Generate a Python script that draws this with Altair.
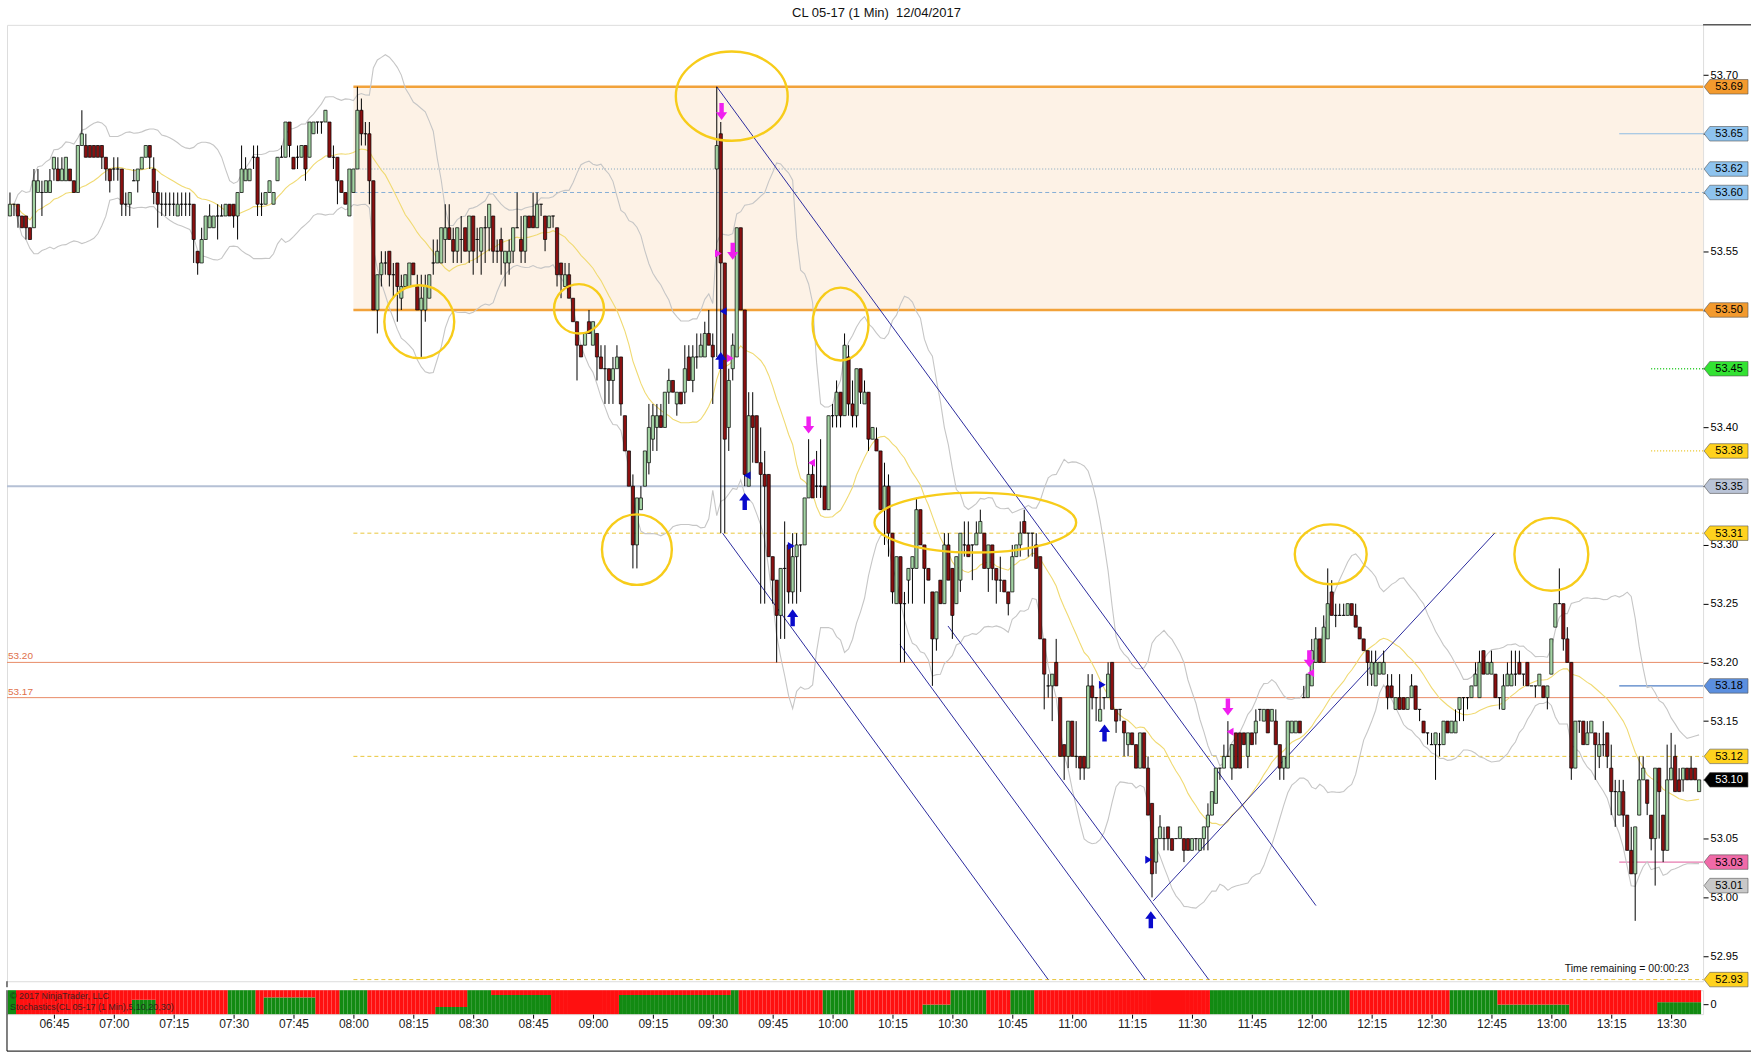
import altair as alt
import numpy as np
import pandas as pd

# ---------------------------------------------------------------- data
FIRST_BAR = 394  # 06:34 in minutes after midnight, one bar per minute

# prices in cents above 53.00
OPEN = [
    58, 59, 59, 58, 58, 57, 57, 60, 60, 60, 60, 62, 62, 61, 61, 62, 61, 60, 64, 64,
    64, 64, 64, 64, 63, 62, 62, 62, 62, 59, 59, 61, 61, 62, 63, 64, 62, 60, 59, 59,
    59, 59, 58, 59, 59, 59, 59, 55, 54, 56, 57, 57, 58, 58, 58, 59, 59, 58, 60, 61,
    61, 63, 63, 59, 59, 60, 59, 61, 63, 63, 66, 63, 63, 63, 64, 63, 65, 66, 66, 66,
    66, 63, 63, 61, 60, 58, 60, 62, 67, 65, 65, 61, 50, 53, 54, 55, 53, 54, 51, 52,
    52, 54, 52, 50, 50, 51, 54, 54, 54, 56, 57, 56, 55, 56, 57, 55, 58, 56, 55, 57,
    57, 58, 55, 56, 54, 54, 55, 57, 56, 55, 58, 58, 57, 59, 58, 57, 58, 57, 54, 52,
    53, 51, 49, 47, 47, 49, 47, 48, 46, 45, 45, 44, 45, 46, 41, 38, 35, 30, 33, 35,
    37, 39, 40, 41, 40, 43, 44, 42, 43, 43, 46, 44, 46, 46, 46, 48, 47, 62, 65, 54,
    40, 45, 46, 57, 50, 35, 41, 41, 37, 36, 36, 29, 27, 24, 28, 30, 26, 29, 30, 30,
    34, 36, 35, 35, 35, 33, 41, 41, 43, 41, 46, 42, 41, 45, 42, 43, 39, 39, 38, 33,
    35, 31, 25, 29, 25, 27, 28, 28, 33, 30, 28, 26, 22, 27, 25, 30, 28, 25, 27, 30,
    30, 30, 30, 31, 31, 28, 30, 28, 27, 27, 26, 26, 29, 30, 32, 31, 31, 30, 29, 22,
    18, 18, 20, 17, 13, 12, 15, 12, 12, 12, 11, 18, 17, 15, 17, 17, 20, 16, 16, 15,
    13, 14, 13, 11, 14, 11, 8, 3, 5, 5, 6, 5, 5, 5, 5, 5, 4, 5, 4, 5,
    6, 7, 8, 11, 11, 12, 11, 14, 14, 14, 12, 14, 14, 16, 15, 16, 15, 15, 13, 11,
    11, 14, 14, 15, 17, 17, 18, 20, 22, 20, 22, 26, 24, 24, 24, 24, 25, 24, 23, 22,
    21, 19, 18, 19, 19, 18, 18, 16, 17, 17, 16, 17, 18, 16, 15, 14, 13, 13, 13, 13,
    15, 14, 14, 16, 17, 17, 17, 18, 17, 21, 19, 19, 19, 17, 16, 18, 18, 19, 20, 19,
    20, 18, 18, 18, 18, 17, 19, 23, 25, 25, 22, 20, 11, 15, 15, 13, 14, 14, 12, 13,
    14, 11, 9, 7, 9, 7, 4, 2, 7, 10, 10, 7, 5, 11, 7, 4, 10, 12, 10, 10,
    11, 11, 11, 9,
]
HIGH = [
    60, 59, 59, 58, 58, 57, 62, 62, 61, 61, 62, 63, 63, 63, 63, 62, 61, 64, 67, 65,
    64, 64, 64, 64, 63, 62, 63, 63, 62, 60, 60, 62, 62, 63, 64, 64, 63, 61, 60, 60,
    60, 60, 60, 60, 60, 60, 59, 55, 57, 58, 59, 58, 59, 59, 59, 59, 59, 60, 64, 63,
    62, 64, 64, 60, 60, 61, 60, 63, 64, 66, 66, 63, 64, 64, 64, 66, 66, 66, 66, 67,
    66, 64, 63, 61, 60, 62, 62, 69, 68, 66, 66, 61, 53, 55, 55, 55, 54, 54, 53, 53,
    54, 54, 53, 53, 53, 53, 56, 56, 57, 59, 59, 57, 57, 58, 57, 58, 58, 57, 57, 58,
    59, 58, 56, 57, 55, 56, 57, 60, 58, 58, 58, 60, 60, 59, 58, 58, 58, 57, 54, 54,
    54, 51, 49, 47, 48, 50, 49, 48, 47, 47, 45, 46, 47, 46, 41, 38, 36, 34, 35, 38,
    42, 42, 42, 42, 43, 45, 44, 43, 43, 47, 47, 47, 48, 48, 49, 50, 48, 69, 66, 54,
    45, 48, 57, 57, 50, 43, 43, 41, 40, 38, 36, 29, 27, 28, 32, 30, 31, 31, 30, 34,
    39, 37, 38, 39, 35, 41, 42, 44, 43, 48, 47, 44, 45, 45, 44, 43, 40, 40, 38, 37,
    36, 31, 29, 29, 26, 28, 29, 34, 33, 30, 28, 26, 26, 27, 31, 31, 28, 29, 31, 32,
    32, 30, 32, 33, 31, 30, 30, 28, 29, 27, 26, 30, 30, 32, 33, 31, 31, 31, 29, 22,
    19, 19, 22, 17, 13, 15, 15, 15, 12, 12, 19, 19, 17, 18, 17, 20, 20, 16, 16, 15,
    14, 14, 13, 14, 14, 12, 8, 5, 7, 6, 6, 5, 5, 6, 5, 5, 5, 5, 5, 6,
    8, 9, 11, 11, 13, 15, 13, 14, 14, 14, 14, 14, 16, 16, 16, 16, 16, 16, 13, 12,
    15, 15, 15, 15, 18, 19, 22, 23, 22, 24, 28, 27, 25, 25, 25, 25, 25, 25, 23, 22,
    21, 21, 21, 20, 21, 19, 19, 17, 19, 17, 17, 19, 18, 16, 15, 14, 14, 14, 14, 15,
    15, 15, 16, 17, 17, 17, 18, 20, 21, 21, 20, 21, 19, 17, 19, 20, 21, 21, 21, 19,
    20, 18, 18, 19, 18, 18, 22, 25, 28, 25, 23, 20, 15, 15, 15, 15, 15, 14, 14, 15,
    14, 13, 10, 10, 10, 7, 6, 6, 12, 12, 10, 7, 11, 11, 7, 13, 14, 13, 11, 11,
    11, 12, 11, 10,
]
LOW = [
    58, 58, 57, 57, 56, 56, 57, 60, 58, 60, 60, 61, 61, 61, 61, 61, 60, 60, 64, 63,
    63, 63, 63, 62, 61, 60, 61, 61, 58, 58, 58, 61, 60, 62, 63, 62, 59, 57, 58, 58,
    58, 58, 58, 58, 58, 58, 54, 53, 54, 56, 57, 57, 56, 58, 58, 58, 57, 56, 60, 61,
    61, 62, 58, 58, 59, 60, 59, 61, 63, 63, 63, 62, 62, 63, 61, 63, 65, 65, 65, 66,
    63, 62, 59, 60, 59, 58, 60, 62, 64, 64, 59, 50, 48, 52, 53, 52, 51, 49, 50, 52,
    52, 53, 50, 46, 49, 51, 53, 54, 54, 54, 56, 54, 54, 54, 55, 54, 53, 54, 53, 54,
    55, 54, 54, 53, 52, 53, 54, 57, 54, 54, 57, 57, 57, 58, 55, 57, 57, 52, 51, 52,
    51, 49, 44, 46, 47, 48, 47, 44, 45, 42, 42, 42, 45, 41, 38, 35, 28, 28, 33, 35,
    36, 38, 38, 40, 40, 42, 43, 41, 42, 42, 44, 43, 45, 46, 46, 47, 42, 46, 31, 31,
    38, 44, 46, 50, 35, 35, 37, 37, 25, 25, 29, 25, 20, 22, 22, 25, 25, 25, 26, 30,
    34, 34, 34, 34, 33, 33, 40, 40, 40, 41, 41, 40, 40, 42, 42, 38, 39, 38, 33, 30,
    29, 25, 25, 20, 20, 25, 25, 28, 30, 25, 27, 18, 21, 25, 25, 27, 22, 25, 26, 29,
    29, 27, 30, 31, 28, 26, 27, 25, 26, 26, 24, 26, 29, 29, 31, 29, 29, 28, 22, 16,
    17, 15, 18, 12, 10, 11, 12, 11, 10, 10, 11, 16, 15, 15, 16, 17, 16, 14, 15, 12,
    12, 13, 11, 11, 11, 7, 0, 2, 5, 4, 4, 4, 5, 5, 3, 4, 4, 4, 4, 4,
    4, 7, 8, 10, 11, 12, 10, 11, 11, 13, 11, 13, 13, 15, 15, 14, 15, 13, 10, 10,
    11, 14, 14, 14, 17, 17, 18, 20, 20, 20, 22, 24, 23, 24, 24, 24, 24, 23, 22, 21,
    18, 18, 18, 19, 19, 16, 17, 16, 16, 16, 16, 17, 16, 15, 14, 13, 13, 10, 12, 13,
    14, 14, 14, 15, 15, 16, 17, 18, 17, 19, 19, 19, 17, 16, 16, 18, 18, 18, 19, 18,
    18, 18, 17, 18, 17, 16, 19, 23, 25, 21, 20, 10, 11, 14, 13, 13, 14, 10, 11, 12,
    11, 7, 6, 7, 6, 4, 2, -2, 7, 10, 7, 4, 1, 5, 3, 4, 10, 9, 9, 9,
    10, 10, 10, 9,
]
CLOSE = [
    59, 59, 58, 57, 57, 56, 61, 61, 60, 61, 61, 63, 61, 62, 63, 61, 60, 64, 65, 63,
    63, 63, 63, 63, 62, 61, 62, 62, 59, 59, 60, 61, 62, 63, 64, 63, 60, 59, 59, 59,
    59, 59, 59, 59, 59, 59, 56, 54, 56, 58, 58, 58, 58, 58, 59, 58, 58, 60, 62, 62,
    62, 63, 59, 59, 60, 61, 60, 63, 63, 66, 64, 62, 63, 64, 62, 66, 66, 66, 66, 67,
    63, 63, 61, 60, 59, 62, 62, 67, 65, 65, 61, 50, 53, 54, 54, 53, 53, 52, 52, 53,
    54, 53, 50, 51, 52, 53, 54, 55, 57, 57, 56, 55, 57, 56, 55, 58, 55, 56, 57, 57,
    59, 55, 55, 55, 55, 55, 57, 57, 55, 58, 57, 57, 59, 59, 56, 58, 58, 53, 53, 53,
    51, 49, 47, 46, 48, 48, 49, 46, 45, 45, 44, 45, 46, 42, 38, 35, 30, 34, 34, 38,
    40, 41, 41, 40, 43, 44, 43, 43, 42, 45, 44, 46, 46, 47, 48, 47, 46, 64, 54, 39,
    44, 47, 57, 50, 36, 41, 40, 37, 36, 35, 29, 27, 24, 28, 28, 26, 29, 30, 30, 34,
    36, 34, 35, 35, 33, 41, 41, 43, 41, 47, 42, 41, 45, 43, 43, 39, 40, 38, 33, 35,
    31, 26, 29, 25, 25, 28, 29, 33, 30, 28, 27, 22, 26, 25, 30, 27, 24, 29, 31, 30,
    29, 30, 31, 32, 28, 30, 28, 27, 27, 26, 25, 29, 30, 31, 31, 31, 31, 28, 22, 19,
    18, 19, 18, 12, 12, 15, 12, 12, 11, 11, 18, 17, 17, 16, 17, 19, 16, 15, 16, 14,
    14, 13, 11, 14, 11, 7, 2, 5, 6, 5, 5, 4, 5, 6, 4, 4, 5, 5, 5, 6,
    7, 9, 11, 11, 12, 12, 13, 11, 11, 13, 14, 13, 15, 16, 16, 14, 16, 13, 11, 12,
    15, 15, 15, 14, 17, 19, 21, 22, 20, 23, 25, 24, 24, 24, 24, 25, 24, 23, 22, 21,
    20, 20, 20, 20, 20, 17, 17, 17, 16, 16, 17, 18, 16, 16, 14, 14, 13, 14, 13, 15,
    14, 15, 15, 17, 17, 17, 18, 19, 20, 19, 20, 20, 17, 17, 18, 19, 19, 19, 19, 19,
    18, 18, 18, 19, 17, 18, 22, 25, 25, 22, 20, 11, 15, 15, 13, 14, 15, 13, 13, 13,
    12, 9, 9, 9, 7, 4, 2, 6, 10, 11, 8, 5, 11, 9, 4, 10, 11, 9, 9, 11,
    10, 10, 10, 10,
]

# oscillator strip runs: first bar, last bar, green share from the bottom
STRIP_FIRST = [0, 2, 31, 37, 55, 62, 64, 77, 83, 90, 107, 115, 121, 136, 153, 181,
               183, 204, 212, 229, 236, 245, 251, 257, 301, 336, 361, 373, 391, 413]
STRIP_LAST = [1, 30, 36, 54, 61, 63, 76, 82, 89, 106, 114, 120, 135, 152, 180, 182,
              203, 211, 228, 235, 244, 250, 256, 300, 335, 360, 372, 390, 412, 423]
STRIP_GREEN = [1.0, 0.0, 0.6, 0.0, 1.0, 0.0, 0.7, 0.0, 1.0, 0.0, 0.3, 1.0, 0.8, 0.0, 0.8, 1.0,
               0.0, 1.0, 0.0, 0.4, 1.0, 0.0, 1.0, 0.0, 1.0, 0.0, 1.0, 0.4, 0.0, 0.5]

# horizontal price levels and the minute they start at (None = from the left edge)
LEVEL_PRICE = [53.69, 53.50, 53.65, 53.62, 53.60, 53.45, 53.38, 53.35, 53.31,
               53.20, 53.17, 53.18, 53.12, 53.03, 52.93]
LEVEL_FROM = [480, 480, 797, 480, 480, 805, 805, None, 480,
              None, None, 797, 480, 797, 480]
LEVEL_LOOK = [  # (style, colour, width)
    ("solid", "#F2A23A", 2.4), ("solid", "#F2A23A", 2.4), ("solid", "#8FBCE3", 1.0),
    ("dot", "#7FA6BF", 1.0), ("dash", "#86AFD6", 1.0), ("dot", "#22C922", 1.6),
    ("dot", "#E9C21E", 1.3), ("solid", "#B5C0D5", 2.0), ("dash", "#E9C63A", 1.0),
    ("solid", "#E88C66", 1.0), ("solid", "#E88C66", 1.0), ("solid", "#4F7FC6", 1.2),
    ("dash", "#E9C63A", 1.0), ("solid", "#E0589C", 1.0), ("dash", "#E9C63A", 1.0),
]

# price-axis tags
TAG_PRICE = [53.69, 53.65, 53.62, 53.60, 53.50, 53.45, 53.38, 53.35, 53.31,
             53.18, 53.12, 53.10, 53.03, 53.01, 52.93]
TAG_FILL = ["#F39A2E", "#8EC3EE", "#8EC3EE", "#8EC3EE", "#F39A2E", "#33E233", "#FFD21E",
            "#B9C3D6", "#FFD21E", "#5B8FDF", "#FFD21E", "#000000", "#F06AA8", "#C8C8C8", "#FFD21E"]

# drawn trend channel: start minute/price, end minute/price
CH_T0 = [571.0, 572.45, 616.9, 628.9, 680.3]
CH_P0 = [53.690, 53.310, 53.215, 53.231, 52.997]
CH_T1 = [721.05, 654.0, 678.3, 694.2, 765.8]
CH_P1 = [52.993, 52.930, 52.930, 52.930, 53.310]

# highlighted zones: centre minute/price, half width (minutes), half height (dollars)
RING_T = [574.75, 496.5, 536.5, 551.0, 602.0, 635.75, 724.75, 780.0]
RING_P = [53.682, 53.490, 53.501, 53.296, 53.488, 53.319, 53.292, 53.292]
RING_HALF_MIN = [14.0, 8.75, 6.25, 8.75, 7.0, 25.25, 9.0, 9.25]
RING_HALF_USD = [0.038, 0.031, 0.021, 0.030, 0.031, 0.0255, 0.0255, 0.031]

# trade signals
SIGNAL_T = [572.2, 575.0, 594.0, 699.0, 719.4,
            572.0, 578.0, 590.0, 668.1, 679.7,
            571.25, 574.25, 594.9, 699.7, 719.9,
            572.75, 578.75, 589.5, 667.4, 679.0]
SIGNAL_P = [53.669, 53.550, 53.402, 53.162, 53.203,
            53.457, 53.337, 53.238, 53.140, 52.981,
            53.548, 53.459, 53.370, 53.141, 53.191,
            53.499, 53.359, 53.299, 53.181, 53.032]
SIGNAL_KIND = ["sell"] * 5 + ["buy"] * 5 + ["sell_r", "sell_r", "sell_l", "sell_l", "sell_l",
                                            "buy_l", "buy_l", "buy_r", "buy_r", "buy_r"]

TIME_TICKS = list(range(405, 811, 15))
PRICE_TICKS = [round(52.95 + 0.05 * k, 2) for k in range(16)]
COVERED_TICKS = ["53.65", "53.60", "53.50", "53.45", "53.35", "53.10"]

# ---------------------------------------------------------------- layout
T_MIN, T_MAX = 393.25, 818.0
P_MIN, P_MAX = 52.9286, 53.7427
W, H_MAIN, H_STRIP = 1699, 958, 24
GAP = 6
PX_MIN = W / (T_MAX - T_MIN)
PX_USD = H_MAIN / (P_MAX - P_MIN)
UP, DOWN = "#A3D3A3", "#8B1010"
FONT = "Liberation Sans"

XS = alt.Scale(domain=[T_MIN, T_MAX], nice=False, zero=False)
YS = alt.Scale(domain=[P_MIN, P_MAX], nice=False, zero=False)
covered = "[" + ",".join(f"'{s}'" for s in COVERED_TICKS) + "]"
YAX = alt.Axis(orient="right", values=PRICE_TICKS, title=None, grid=False,
               domain=False, tickSize=5, tickColor="#000", labelColor="#000",
               labelFontSize=11, labelPadding=2, labelFont=FONT,
               labelExpr=f"indexof({covered}, format(datum.value, '.2f')) >= 0 ? '' : "
                         "format(datum.value, '.2f')")
XAX = alt.Axis(values=TIME_TICKS, title=None, grid=False, domain=False, tickSize=4,
               tickColor="#000", labelColor="#222", labelFontSize=12, labelPadding=0,
               labelFont=FONT,
               labelExpr="timeFormat(datetime(2017, 3, 12, floor(datum.value / 60), "
                         "datum.value % 60), '%H:%M')")


def X(f, axis=None):
    return alt.X(f"{f}:Q", scale=XS, axis=axis)


def Y(f):
    return alt.Y(f"{f}:Q", scale=YS, axis=YAX)


# ---------------------------------------------------------------- frames
n = min(len(OPEN), len(HIGH), len(LOW), len(CLOSE))
bars = pd.DataFrame({"o": OPEN[:n], "h": HIGH[:n], "l": LOW[:n], "c": CLOSE[:n]}) / 100 + 53
bars["t"] = [FIRST_BAR + i for i in range(n)]
bars["b0"] = bars[["o", "c"]].min(axis=1)
bars["b1"] = bars[["o", "c"]].max(axis=1)
bars["h"] = bars[["h", "b1"]].max(axis=1)
bars["l"] = bars[["l", "b0"]].min(axis=1)
bars["t0"] = bars["t"] - 0.4
bars["t1"] = bars["t"] + 0.4
bars["fill"] = np.where(bars["c"] > bars["o"], UP, np.where(bars["c"] < bars["o"], DOWN, "#000000"))

levels = pd.DataFrame({
    "p": LEVEL_PRICE,
    "t0": [T_MIN if f is None else f for f in LEVEL_FROM],
    "t1": T_MAX,
    "style": [s for s, _, _ in LEVEL_LOOK],
    "col": [c for _, c, _ in LEVEL_LOOK],
    "w": [w for _, _, w in LEVEL_LOOK],
})

box = pd.DataFrame({"t0": [480.0], "t1": [T_MAX], "p0": [53.50], "p1": [53.69]})

chan_rows = []
for k in range(len(CH_T0)):
    chan_rows.append({"id": k, "t": CH_T0[k], "p": CH_P0[k]})
    chan_rows.append({"id": k, "t": CH_T1[k], "p": CH_P1[k]})
chan = pd.DataFrame(chan_rows)


def ellipse_path(k):
    c = 0.5523
    return (f"M 1 0 C 1 {c*k:.4f} {c:.4f} {k:.4f} 0 {k:.4f} "
            f"C {-c:.4f} {k:.4f} -1 {c*k:.4f} -1 0 "
            f"C -1 {-c*k:.4f} {-c:.4f} {-k:.4f} 0 {-k:.4f} "
            f"C {c:.4f} {-k:.4f} 1 {-c*k:.4f} 1 0 Z")


rings = pd.DataFrame({"t": RING_T, "p": RING_P})
rx = np.array(RING_HALF_MIN) * PX_MIN
ry = np.array(RING_HALF_USD) * PX_USD
rings["shape"] = [ellipse_path(b / a) for a, b in zip(rx, ry)]
rings["size"] = 4 * rx ** 2

UP_ARROW = "M 0 -1 L 0.66 -0.1 L 0.26 -0.1 L 0.26 1 L -0.26 1 L -0.26 -0.1 L -0.66 -0.1 Z"
DOWN_ARROW = "M 0 1 L 0.66 0.1 L 0.26 0.1 L 0.26 -1 L -0.26 -1 L -0.26 0.1 L -0.66 0.1 Z"
SHAPES = {
    "buy": (UP_ARROW, 290, "#0A0ACC"),
    "sell": (DOWN_ARROW, 290, "#F01EF0"),
    "buy_r": ("M 1 0 L -0.7 -1 L -0.7 1 Z", 64, "#0A0ACC"),
    "buy_l": ("M -1 0 L 0.7 -1 L 0.7 1 Z", 64, "#0A0ACC"),
    "sell_r": ("M 1 0 L -0.7 -1 L -0.7 1 Z", 64, "#F01EF0"),
    "sell_l": ("M -1 0 L 0.7 -1 L 0.7 1 Z", 64, "#F01EF0"),
}
signals = pd.DataFrame({"t": SIGNAL_T, "p": SIGNAL_P, "kind": SIGNAL_KIND})
signals["shape"] = [SHAPES[k][0] for k in SIGNAL_KIND]
signals["size"] = [SHAPES[k][1] for k in SIGNAL_KIND]
signals["col"] = [SHAPES[k][2] for k in SIGNAL_KIND]

tags = pd.DataFrame({"p": TAG_PRICE, "fill": TAG_FILL})
tags["label"] = [f"{p:.2f}" for p in TAG_PRICE]
tags["ink"] = ["#FFFFFF" if f == "#000000" else "#000000" for f in TAG_FILL]

left_notes = pd.DataFrame({"p": [53.20, 53.17], "label": ["53.20", "53.17"]})

strip_rows = []
for a, b, g in zip(STRIP_FIRST, STRIP_LAST, STRIP_GREEN):
    for i in range(a, b + 1):
        t = FIRST_BAR + i
        strip_rows.append({"t0": t - 0.5, "t1": t + 0.5, "g": g})
strip_df = pd.DataFrame(strip_rows)

# ---------------------------------------------------------------- main panel
box_l = alt.Chart(box).mark_rect(color="#FDF2E6").encode(
    x=X("t0"), x2="t1", y=Y("p0"), y2="p1")


def level_layer(style, dash):
    return alt.Chart(levels[levels["style"] == style]).mark_rule(
        **({"strokeDash": dash} if dash else {})
    ).encode(
        x=X("t0"), x2="t1", y=Y("p"),
        color=alt.Color("col:N", scale=None),
        strokeWidth=alt.StrokeWidth("w:Q", scale=None))


lvl_solid = level_layer("solid", None)
lvl_dash = level_layer("dash", [4, 3])
lvl_dot = level_layer("dot", [1, 2])

bands_base = alt.Chart(bars).transform_window(
    sma="mean(c)", sd="stdev(c)", frame=[-19, 0], sort=[alt.SortField("t")]
).transform_calculate(
    bb_up="datum.sma + 2 * datum.sd", bb_dn="datum.sma - 2 * datum.sd"
)
bands = bands_base.transform_fold(["bb_up", "bb_dn"], as_=["band", "v"]).mark_line(
    color="#C6C6C6", strokeWidth=1.1).encode(x=X("t"), y=Y("v"), detail="band:N")
sma = bands_base.mark_line(color="#F0DA72", strokeWidth=1.1).encode(x=X("t"), y=Y("sma"))

chan_l = alt.Chart(chan).mark_line(color="#2B2B9E", strokeWidth=1).encode(
    x=X("t"), y=Y("p"), detail="id:N")

wicks = alt.Chart(bars).mark_rule(color="#000", strokeWidth=1).encode(
    x=X("t"), y=Y("l"), y2="h")
bodies = alt.Chart(bars).mark_rect(stroke="#000", strokeWidth=0.7).encode(
    x=X("t0"), x2="t1", y=Y("b0"), y2="b1", fill=alt.Fill("fill:N", scale=None))

rings_l = alt.Chart(rings).mark_point(filled=False, color="#F7CC1A", strokeWidth=2.4,
                                      opacity=1).encode(
    x=X("t"), y=Y("p"), shape=alt.Shape("shape:N", scale=None),
    size=alt.Size("size:Q", scale=None))

signals_l = alt.Chart(signals).mark_point(filled=True, opacity=1, strokeWidth=0).encode(
    x=X("t"), y=Y("p"), shape=alt.Shape("shape:N", scale=None),
    size=alt.Size("size:Q", scale=None), color=alt.Color("col:N", scale=None))

TAG_SHAPE = "M -1 0 L -0.74 -0.33 L 1 -0.33 L 1 0.33 L -0.74 0.33 Z"
tags_l = alt.Chart(tags).mark_point(filled=True, opacity=1, shape=TAG_SHAPE, size=1936,
                                    stroke="#555", strokeWidth=0.6).encode(
    x=alt.value(W + 23), y=Y("p"), fill=alt.Fill("fill:N", scale=None))
tags_t = alt.Chart(tags).mark_text(fontSize=11, font=FONT, align="center", baseline="middle",
                                   dy=0.5).encode(
    x=alt.value(W + 26), y=Y("p"), text="label:N", color=alt.Color("ink:N", scale=None))

notes_l = alt.Chart(left_notes).mark_text(fontSize=10, font=FONT, align="left",
                                          baseline="bottom", dy=-1, color="#E0704A").encode(
    x=alt.value(1), y=Y("p"), text="label:N")

title_l = alt.Chart(pd.DataFrame({"s": ["CL 05-17 (1 Min)\u00a0 12/04/2017"]})).mark_text(
    fontSize=13, font=FONT, color="#111", align="center", baseline="middle").encode(
    x=alt.value(871), y=alt.value(-12), text="s:N")

timer_l = alt.Chart(pd.DataFrame({"s": ["Time remaining = 00:00:23"]})).mark_text(
    fontSize=10.5, font=FONT, color="#111", align="right", baseline="middle").encode(
    x=alt.value(1685), y=alt.value(946), text="s:N")

one = pd.DataFrame({"a": [0]})
frame_top = alt.Chart(one).mark_rule(color="#000", strokeWidth=1).encode(
    x=alt.value(W), x2=alt.value(W + 48), y=alt.value(0))
# outer frame continues on the left through the gap between the two panels
frame_gap = alt.Chart(one).mark_rule(color="#000", strokeWidth=1).encode(
    x=alt.value(0), y=alt.value(H_MAIN), y2=alt.value(H_MAIN + GAP))

main = alt.layer(
    box_l, lvl_solid, lvl_dash, lvl_dot, bands, sma, chan_l, wicks, bodies,
    rings_l, signals_l, tags_l, tags_t, notes_l, title_l, timer_l, frame_top, frame_gap,
).properties(width=W, height=H_MAIN)

# ---------------------------------------------------------------- oscillator strip
SY = alt.Scale(domain=[0, 1], nice=False, zero=False)
SAX = alt.Axis(orient="right", values=[0.4], labelExpr="'0'", title=None, grid=False,
               domain=False, tickSize=5, tickColor="#000", labelColor="#000",
               labelFontSize=11, labelFont=FONT)
green = alt.Chart(strip_df).transform_calculate(z="0").mark_rect(color="#128A12").encode(
    x=X("t0", XAX), x2="t1", y=alt.Y("z:Q", scale=SY, axis=SAX), y2="g")
red = alt.Chart(strip_df).transform_calculate(one="1").mark_rect(color="#FF1010").encode(
    x=X("t0", XAX), x2="t1", y=alt.Y("g:Q", scale=SY, axis=SAX), y2="one:Q")
credit = alt.Chart(pd.DataFrame({"s": ["\u00a9 2017 NinjaTrader, LLC",
                                       "Stochastics(CL 05-17 (1 Min),5,10,20,30)"],
                                 "dy": [6, 17]})).mark_text(
    fontSize=9, font=FONT, color="#222", align="left", baseline="middle", opacity=0.85).encode(
    x=alt.value(3), y=alt.Y("dy:Q", scale=None), text="s:N")
frame_left = alt.Chart(one).mark_rule(color="#000", strokeWidth=1).encode(
    x=alt.value(0), y=alt.value(0), y2=alt.value(61))
frame_bottom = alt.Chart(one).mark_rule(color="#000", strokeWidth=1).encode(
    x=alt.value(0), x2=alt.value(W + 48), y=alt.value(61))

strip = alt.layer(green, red, credit, frame_left, frame_bottom).properties(width=W, height=H_STRIP)

chart = alt.vconcat(main, strip, spacing=0).properties(
    padding={"left": 5, "top": 5, "right": 0, "bottom": 0},
    background="white",
).configure_view(stroke="#000", strokeWidth=1).configure(font=FONT)

chart.save("out.html", embed_options={"renderer": "svg", "actions": False})
